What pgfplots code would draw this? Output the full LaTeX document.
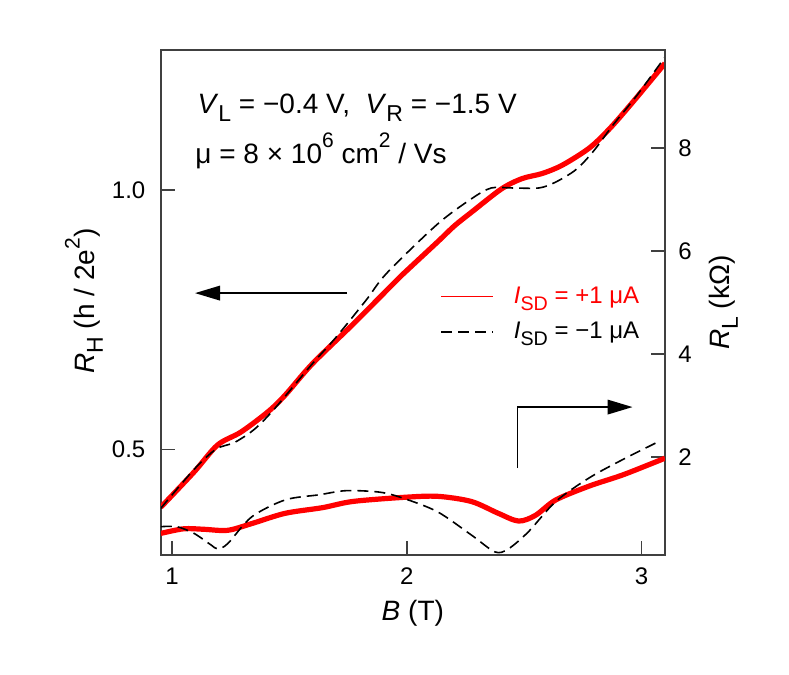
\documentclass[border=0pt]{standalone}
\usepackage{fontspec}
\setmainfont{Liberation Sans}
\usepackage{pgfplots}
\pgfplotsset{compat=1.18}
\usetikzlibrary{arrows.meta}

\newcommand{\sub}[1]{\raisebox{-0.28em}{\scalebox{0.82}{#1}}}
\newcommand{\sups}[1]{\raisebox{0.55em}{\scalebox{0.75}{#1}}}

\pgfplotsset{
  base/.style={
    width=252pt, height=252.5pt, scale only axis,
    xmin=0.952, xmax=3.10,
    tick align=inside,
    major tick length=7pt,
    axis line style={black!75, line width=0.8pt},
    tick style={black!75, line width=0.8pt},
    /pgf/number format/assume math mode=true,
    ticklabel style={font=\fontsize{12}{14}\selectfont},
    label style={font=\fontsize{14}{16}\selectfont},
  },
  redline/.style={red, line width=2.6pt, smooth, tension=0.5},
  dashline/.style={black, line width=0.8pt, dash pattern=on 5.5pt off 3pt, smooth, tension=0.5},
}

\begin{document}
\begin{tikzpicture}
\begin{axis}[base, name=main,
    ymin=0.2967, ymax=1.2697,
    xtick={1,2,3}, ytick={0.5,1.0},
    xtick pos=bottom, ytick pos=left,
    /pgf/number format/fixed, /pgf/number format/fixed zerofill,
    /pgf/number format/precision=1,
    yticklabel style={inner sep=0pt, xshift=-7.5pt},
    xticklabel style={inner sep=0pt, yshift=-6pt},
    xticklabel={\pgfmathprintnumber[precision=0]{\tick}},
    xlabel={\textit{B} (T)},
    xlabel style={at={(axis description cs:0.5,0)}, anchor=base, yshift=-32.5pt},
    ylabel={\textit{R}\sub{H} (h / 2e\sups{2})},
    ylabel style={at={(axis description cs:0,0.503)}, anchor=base, yshift=32.9pt},
    legend style={at={(axis description cs:0.554,0.54)}, anchor=north west,
      draw=none, fill=none, inner sep=0pt, row sep=4pt,
      font=\fontsize{12}{14}\selectfont},
    legend cell align=left,
    legend image code/.code={\draw[#1, line width=0.8pt] (0pt,0pt) -- (26pt,0pt);
      \path (33pt,0pt);},
]
% R_H, I_SD = +1 uA
\addplot[redline] coordinates {
(0.952,0.389) (1.094,0.457) (1.194,0.509) (1.294,0.534) (1.409,0.573)
(1.482,0.605) (1.597,0.665) (1.772,0.742) (1.915,0.807) (1.972,0.833)
(2.131,0.900) (2.203,0.931) (2.275,0.957) (2.403,1.002) (2.491,1.022)
(2.578,1.032) (2.663,1.048) (2.778,1.081) (2.866,1.119) (2.966,1.171)
(3.100,1.244)
};
\addlegendentry{\textcolor{red}{\textit{I}\sub{SD} = +1 μA}}
% R_H, I_SD = -1 uA
\addplot[dashline] coordinates {
(0.952,0.387) (1.094,0.462) (1.188,0.501) (1.267,0.514) (1.353,0.540)
(1.439,0.580) (1.597,0.665) (1.698,0.716) (1.827,0.788) (1.915,0.840)
(2.130,0.934) (2.275,0.983) (2.360,1.004) (2.450,1.004) (2.563,1.004)
(2.633,1.015) (2.720,1.039) (2.794,1.074) (2.880,1.126) (2.980,1.182)
(3.100,1.256)
};
\addlegendentry{\textit{I}\sub{SD} = −1 μA}

\draw[line width=0.8pt, -{Triangle[length=12.5pt,width=7.3pt]}]
  (axis cs:1.746,0.8015) -- (axis cs:1.098,0.8015);
\draw[line width=0.8pt, -{Triangle[length=12.5pt,width=7.3pt]}]
  (axis cs:2.471,0.4644) |- (axis cs:2.962,0.582);

\node[anchor=base west, font=\fontsize{14}{16}\selectfont, inner sep=0pt]
  at (axis cs:1.107,1.148) {\textit{V}\sub{L} = −0.4 V,\ \ \textit{V}\sub{R} = −1.5 V};
\node[anchor=base west, font=\fontsize{14}{16}\selectfont, inner sep=0pt]
  at (axis cs:1.098,1.052) {μ = 8 × 10\sups{6} cm\sups{2} / Vs};
\end{axis}

\begin{axis}[base,
    ymin=0.097, ymax=9.903,
    axis x line=none, axis y line*=right,
    ytick={2,4,6,8},
    yticklabel style={inner sep=0pt, anchor=west, xshift=6.5pt},
    ylabel={\textit{R}\sub{L} (kΩ)},
    ylabel style={at={(axis description cs:1,0.5)}, anchor=base, yshift=-32.5pt},
]
% R_L, I_SD = +1 uA
\addplot[redline] coordinates {
(0.952,0.52) (1.05,0.61) (1.136,0.60) (1.237,0.58) (1.339,0.71)
(1.482,0.91) (1.641,1.02) (1.77,1.14) (1.987,1.22) (2.131,1.24)
(2.275,1.14) (2.39,0.91) (2.476,0.76) (2.548,0.87) (2.635,1.17)
(2.778,1.44) (2.923,1.66) (3.10,1.98)
};
% R_L, I_SD = -1 uA
\addplot[dashline] coordinates {
(0.952,0.65) (1.021,0.65) (1.094,0.52) (1.165,0.30) (1.194,0.22)
(1.237,0.32) (1.339,0.84) (1.482,1.17) (1.627,1.27) (1.742,1.35)
(1.886,1.32) (1.987,1.20) (2.131,0.94) (2.275,0.49) (2.376,0.16)
(2.433,0.22) (2.518,0.55) (2.635,1.14) (2.778,1.60) (2.923,1.96)
(3.081,2.32)
};
\end{axis}

\path ([xshift=-80.35pt,yshift=-59.5pt]main.south west)
  rectangle ([xshift=62pt,yshift=25pt]main.north east);
\end{tikzpicture}
\end{document}
